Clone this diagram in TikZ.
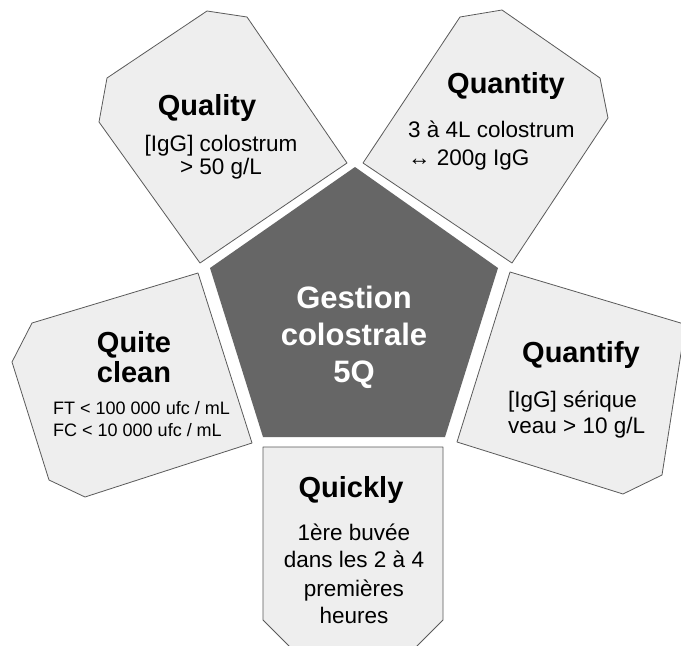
\documentclass[tikz,border=0pt]{standalone}
\usepackage{fontspec}
\setmainfont{Liberation Sans}
\definecolor{boxfill}{HTML}{EEEEEE}
\definecolor{boxline}{HTML}{5A5A5A}
\definecolor{penta}{HTML}{666666}
\begin{document}
\begin{tikzpicture}[x=1pt,y=-1pt,
  box/.style={fill=boxfill, draw=boxline, line width=0.8pt, line join=round},
  ttl/.style={anchor=base, inner sep=0pt, font=\fontsize{29}{34}\selectfont\bfseries},
  bdy/.style={anchor=base, inner sep=0pt, font=\fontsize{22.5}{27}\selectfont},
  bdyl/.style={anchor=base west, inner sep=0pt, font=\fontsize{22.5}{27}\selectfont},
  small/.style={anchor=base west, inner sep=0pt, font=\fontsize{18}{22}\selectfont},
  ctr/.style={anchor=base, inner sep=0pt, text=white, font=\fontsize{31}{37}\selectfont\bfseries}]
\useasboundingbox[fill=white] (0,0) rectangle (681,646);
\begin{scope}
\clip (0,0) rectangle (681,646);
% central pentagon
\fill[penta] (355,167) -- (498,268) -- (445,437) -- (263,437) -- (210,268) -- cycle;
% Quality
\draw[box] (107,78) -- (207,11) -- (247,17) -- (347,163) -- (200,263) -- (99,122) -- cycle;
% Quantity
\draw[box] (460,17) -- (502,10) -- (600,78) -- (608,118) -- (512,263) -- (363,163) -- cycle;
% Quite clean
\draw[box] (198,273) -- (252,443) -- (85,497) -- (49,480) -- (12,362) -- (32,323) -- cycle;
% Quantify
\draw[box] (510,272) -- (684,324) -- (684,334) -- (662,475) -- (623,494) -- (457,442) -- cycle;
% Quickly
\draw[box] (263,447) -- (443,447) -- (443,620) -- (410,653) -- (296,653) -- (263,620) -- cycle;
\end{scope}
% center text
\node[ctr] (c1) at (354,308) {Gestion};
\node[ctr] (c2) at (354,345) {colostrale};
\node[ctr] (c3) at (354,382) {5Q};
% Quality
\node[ttl] (qa) at (207,115) {Quality};
\node[bdy] (qa1) at (221,151) {[IgG] colostrum};
\node[bdy] (qa2) at (221,174) {> 50 g/L};
% Quantity
\node[ttl] (qt) at (506,93) {Quantity};
\node[bdyl] (qt1) at (408,137) {3 à 4L colostrum};
\node[bdyl] (qt2) at (408,165) {↔ 200g IgG};
% Quite clean
\node[ttl] (qc1) at (134,352) {Quite};
\node[ttl] (qc2) at (134,382) {clean};
\node[small] (qc3) at (53,414) {FT < 100 000 ufc / mL};
\node[small] (qc4) at (53,436) {FC < 10 000 ufc / mL};
% Quantify
\node[ttl] (qf) at (581,362) {Quantify};
\node[bdyl] (qf1) at (508,407) {[IgG] sérique};
\node[bdyl] (qf2) at (508,433) {veau > 10 g/L};
% Quickly
\node[ttl] (qk) at (351,497) {Quickly};
\node[bdy] (qk1) at (354,540) {1ère buvée};
\node[bdy] (qk2) at (354,567) {dans les 2 à 4};
\node[bdy] (qk3) at (354,596) {premières};
\node[bdy] (qk4) at (354,623) {heures};
\end{tikzpicture}
\end{document}
